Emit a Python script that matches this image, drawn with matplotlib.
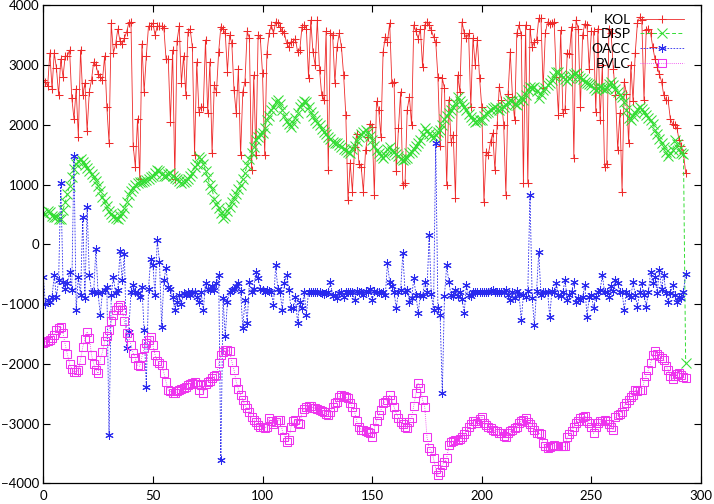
import numpy as np
import matplotlib
matplotlib.use("Agg")
import matplotlib.pyplot as plt

plt.rcParams['font.family'] = ['Lato', 'DejaVu Sans']

kol = [2750, 2720, 2650, 3200, 2600, 3200, 2950, 2500, 3100, 2800,
       3150, 3150, 3250, 2450, 2100, 2600, 1800, 3250, 2500, 2700,
       1900, 2550, 2750, 3050, 3000, 2850, 2800, 2750, 3150, 2300,
       1700, 3700, 3200, 3350, 3600, 3400, 3350, 3450, 3550, 3700,
       3720, 1650, 1300, 2100, 1100, 3350, 2550, 3150, 3650, 3650,
       3700, 3500, 3650, 3650, 3650, 3620, 3100, 3100, 2050, 3250,
       1100, 3400, 3650, 2700, 3150, 2500, 3550, 3600, 3300, 1500,
       3050, 2220, 2300, 2300, 3420, 2190, 3050, 1520, 2660, 2550,
       3220, 3640, 3600, 3530, 2890, 3500, 3360, 2580, 2190, 2940,
       1490, 2550, 2720, 3560, 3450, 1240, 2830, 1490, 3500, 3450,
       2860, 1490, 3190, 3530, 3670, 3530, 3720, 3700, 3640, 3560,
       3530, 3360, 3300, 3390, 3390, 3440, 3220, 3250, 3640, 3670,
       3610, 2780, 3750, 3220, 3000, 3750, 2920, 2500, 2410, 3560,
       1240, 3530, 3500, 2700, 3300, 3530, 3300, 2830, 2160, 740,
       1360, 880, 1630, 1850, 1350, 1300, 880, 1580, 1800, 2020,
       1970, 830, 2390, 2250, 1800, 3220, 3470, 3390, 3700, 2700,
       2720, 1220, 1940, 2550, 990, 1020, 2250, 2470, 1990, 3670,
       3560, 3440, 3610, 2970, 3670, 3720, 3670, 3580, 3470, 3390,
       2800, 1640, 2780, 2610, 990, 2420, 1720, 1830, 770, 2830,
       2550, 3720, 3530, 3450, 3530, 2300, 3450, 3000, 3420, 2780,
       2300, 710, 1550, 1500, 1720, 1860, 1240, 1990, 2640, 2420,
       2000, 830, 2520, 3220, 2470, 2080, 3530, 3670, 3500, 1020,
       3670, 1020, 3610, 3300, 3390, 3420, 3780, 3780, 2610, 3530,
       3720, 3690, 3700, 3720, 2800, 2160, 3580, 2190, 2270, 3200,
       3190, 3640, 1440, 3750, 3610, 2300, 3500, 3690, 3670, 2940,
       3560, 3560, 2220, 3610, 2080, 3000, 1300, 1350, 3610, 3530,
       2940, 2500, 1580, 2200, 880, 2720, 2520, 1690, 3000, 2400,
       3200, 3700, 3800, 3750, 2410, 3580, 3610, 3530, 3300, 3100,
       2970, 2850, 2720, 2500, 2410, 2410, 2100, 2020, 1990, 1950,
       1740, 1650, 1520, 1200]

disp = [520, 510, 550, 540, 480, 460, 450, 430, 420, 580,
        700, 850, 980, 1120, 1260, 1350, 1400, 1420, 1380, 1330,
        1280, 1230, 1180, 1120, 1060, 980, 900, 800, 720, 640,
        560, 500, 460, 440, 430, 470, 530, 600, 700, 820,
        900, 950, 1000, 1030, 1040, 1050, 1060, 1080, 1100, 1120,
        1150, 1200, 1240, 1220, 1180, 1150, 1140, 1170, 1190, 1150,
        1110, 1100, 1060, 1030, 1050, 1060, 1100, 1150, 1190, 1300,
        1350, 1460, 1420, 1350, 1230, 1120, 1000, 920, 760, 680,
        600, 520, 440, 470, 560, 620, 700, 770, 850, 930,
        1000, 1100, 1200, 1320, 1420, 1520, 1620, 1750, 1800, 1850,
        1860, 1950, 2080, 2150, 2250, 2300, 2380, 2420, 2350, 2250,
        2150, 2060, 2010, 1970, 2030, 2110, 2200, 2300, 2350, 2390,
        2380, 2300, 2220, 2140, 2080, 2030, 1990, 1930, 1880, 1840,
        1800, 1760, 1720, 1700, 1690, 1660, 1630, 1600, 1570, 1540,
        1520, 1600, 1650, 1730, 1800, 1850, 1880, 1910, 1880, 1820,
        1750, 1650, 1580, 1530, 1480, 1440, 1500, 1600, 1620, 1560,
        1540, 1510, 1480, 1430, 1410, 1430, 1450, 1520, 1550, 1600,
        1650, 1700, 1750, 1850, 1940, 1900, 1850, 1820, 1800, 1830,
        1880, 1910, 2000, 2100, 2140, 2200, 2250, 2300, 2360, 2470,
        2400, 2350, 2300, 2250, 2180, 2130, 2080, 2050, 2060, 2080,
        2080, 2150, 2190, 2220, 2250, 2280, 2300, 2260, 2240, 2280,
        2300, 2330, 2380, 2410, 2400, 2350, 2330, 2400, 2460, 2420,
        2500, 2580, 2640, 2620, 2630, 2560, 2440, 2510, 2580, 2620,
        2660, 2700, 2750, 2820, 2890, 2880, 2840, 2800, 2760, 2740,
        2780, 2820, 2850, 2860, 2820, 2790, 2760, 2720, 2700, 2680,
        2660, 2620, 2580, 2610, 2640, 2620, 2590, 2620, 2680, 2720,
        2660, 2600, 2550, 2500, 2460, 2380, 2250, 2120, 2080, 2150,
        2200, 2260, 2300, 2260, 2220, 2160, 2120, 2080, 2020, 1920,
        1850, 1760, 1700, 1630, 1550, 1470, 1520, 1580, 1740, 1680,
        1600, 1520, 1510, -1990]

oacc = [-540, -1000, -930, -960, -880, -520, -880, -600, 1020, -630,
        -740, -650, -460, -760, 1470, -1100, -540, -850, 450, -900,
        620, -520, -790, -790, -80, -820, -1180, -790, -760, -710,
        -3190, -850, -540, -820, -760, -110, -600, -160, -1740, -1460,
        -790, -680, -790, -820, -880, -720, -1430, -2380, -740, -240,
        -350, -850, 80, -290, -1380, -600, -400, -710, -740, -880,
        -1100, -960, -850, -990, -820, -840, -800, -850, -790, -790,
        -880, -960, -800, -1100, -650, -740, -760, -700, -760, -650,
        -510, -3600, -900, -1540, -960, -790, -760, -740, -700, -650,
        -780, -1400, -930, -1320, -630, -790, -740, -460, -570, -750,
        -760, -790, -760, -780, -800, -1015, -350, -750, -790, -1100,
        -650, -510, -760, -1070, -1070, -880, -1320, -960, -1070, -800,
        -1180, -790, -790, -790, -790, -790, -800, -810, -830, -810,
        -790, -630, -870, -840, -900, -820, -790, -880, -800, -790,
        -800, -800, -930, -780, -790, -800, -840, -780, -800, -750,
        -930, -780, -800, -790, -820, -800, -850, -320, -630, -700,
        -790, -1070, -790, -760, -150, -790, -760, -960, -900, -570,
        -850, -1150, -850, -870, -630, -800, 155, -830, -1100, 1690,
        -1070, -1180, -2490, -860, -350, -630, -850, -870, -760, -870,
        -800, -920, -1150, -680, -850, -870, -790, -800, -790, -790,
        -800, -790, -790, -800, -780, -770, -790, -800, -790, -800,
        -790, -770, -850, -930, -800, -900, -780, -830, -1270, -850,
        -880, -780, 825, -900, -1350, -780, -125, -850, -790, -800,
        -790, -1210, -780, -800, -650, -850, -870, -790, -600, -930,
        -850, -790, -630, -960, -900, -930, -880, -680, -1210, -880,
        -840, -1070, -880, -790, -760, -515, -790, -800, -880, -700,
        -780, -600, -650, -790, -800, -1100, -790, -850, -880, -630,
        -850, -1040, -800, -650, -850, -1040, -800, -460, -650, -540,
        -820, -430, -740, -510, -820, -960, -820, -680, -850, -960,
        -880, -900, -790, -490]

bvlc = [-1650, -1630, -1620, -1600, -1560, -1520, -1440, -1400, -1380, -1480,
        -1680, -1840, -2000, -2080, -2130, -2130, -2100, -1930, -1720, -1580,
        -1460, -1560, -1850, -2000, -2100, -2160, -1930, -1800, -1620, -1540,
        -1430, -1290, -1180, -1100, -1040, -1010, -1100, -1290, -1490, -1550,
        -1680, -1820, -1900, -2020, -2040, -1880, -1740, -1650, -1600, -1550,
        -1680, -1850, -1950, -1990, -2020, -2150, -2300, -2440, -2460, -2490,
        -2490, -2460, -2440, -2420, -2400, -2380, -2350, -2330, -2320, -2310,
        -2330, -2440, -2350, -2490, -2330, -2300, -2290, -2240, -2210, -2190,
        -1990, -1850, -1800, -1770, -1770, -1790, -1960, -2100, -2300, -2420,
        -2520, -2600, -2690, -2740, -2800, -2880, -2930, -2970, -3020, -3050,
        -3060, -3070, -3050, -2910, -2950, -3000, -2970, -2940, -2940, -3110,
        -3220, -3300, -3280, -3050, -2960, -2940, -2990, -3010, -2800, -2760,
        -2720, -2710, -2710, -2730, -2740, -2760, -2770, -2790, -2800, -2830,
        -2860, -2800, -2720, -2660, -2630, -2550, -2520, -2530, -2560, -2570,
        -2650, -2720, -2800, -2960, -3050, -3100, -3110, -3130, -3140, -3160,
        -3220, -3080, -2950, -2860, -2770, -2660, -2630, -2600, -2520, -2600,
        -2720, -2830, -2900, -2970, -3000, -3060, -3080, -2970, -2900, -2700,
        -2490, -2320, -2400, -2600, -2720, -3220, -3410, -3460, -3580, -3750,
        -3860, -3800, -3690, -3640, -3580, -3360, -3300, -3290, -3280, -3280,
        -3250, -3220, -3180, -3130, -3060, -3010, -2960, -2960, -2980, -2920,
        -2880, -2990, -3020, -3050, -3080, -3100, -3130, -3130, -3150, -3160,
        -3200, -3220, -3160, -3130, -3100, -3080, -3050, -2980, -2960, -2930,
        -2910, -2970, -3000, -3050, -3100, -3150, -3160, -3180, -3330, -3380,
        -3410, -3390, -3370, -3360, -3370, -3380, -3370, -3380, -3380, -3220,
        -3180, -3120, -3050, -2980, -2960, -2910, -2890, -2870, -2960, -2990,
        -3060, -3160, -3060, -2990, -2960, -2950, -2940, -2960, -3010, -3060,
        -3100, -2880, -2860, -2840, -2800, -2700, -2660, -2600, -2560, -2520,
        -2440, -2450, -2440, -2440, -2300, -2200, -2100, -1990, -1850, -1790,
        -1830, -1860, -1900, -1930, -2040, -2100, -2210, -2250, -2200, -2170,
        -2150, -2180, -2220, -2240]

labels = ["KOL", "DISP", "OACC", "BVLC"]
xticks = [0, 50, 100, 150, 200, 250, 300]
yticks = [-4000, -3000, -2000, -1000, 0, 1000, 2000, 3000, 4000]

fig = plt.figure(figsize=(7.14, 5.04), dpi=100)
ax = fig.add_axes([0.0606, 0.0407, 0.9212, 0.949])

x = np.arange(len(kol))
asterisk = (6, 2, 0)
red, green, blue, mag = '#ee2a2a', '#33dd33', '#2a2aee', '#ee33ee'
ax.plot(x, kol, color=red, mec=red, lw=0.6, marker='+', ms=6, mew=0.75, label=labels[0])
ax.plot(x, disp, color=green, mec=green, lw=0.7, ls=(0, (4, 2.5)), marker='x', ms=6.5, mew=0.75,
        label=labels[1])
ax.plot(x, oacc, color=blue, mec=blue, lw=0.6, ls=(0, (2, 1.6)), marker=asterisk, ms=6, mew=0.75,
        label=labels[2])
ax.plot(x, bvlc, color=mag, mec=mag, lw=0.6, ls=(0, (1, 1.5)), marker='s', ms=6, mew=0.75,
        mfc='none', label=labels[3])

ax.set_xlim(0, 300)
ax.set_ylim(-4000, 4000)
ax.set_xticks(xticks)
ax.set_yticks(yticks)
ax.tick_params(direction='in', top=True, right=True, length=5, width=0.8, labelsize=9.5)
ax.tick_params(axis='y', pad=3)
ax.tick_params(axis='x', pad=5)
for s in ax.spines.values():
    s.set_linewidth(0.9)

leg = ax.legend(loc='upper right', bbox_to_anchor=(0.9847, 0.997), frameon=False, markerfirst=False,
                fontsize=10, handlelength=3.15, handletextpad=0.7, labelspacing=0.2,
                borderaxespad=0.1)

fig.savefig("out.png", dpi=100)
